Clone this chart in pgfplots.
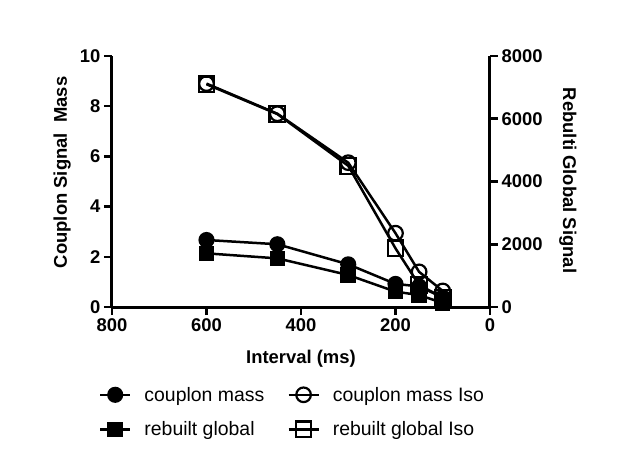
\documentclass[border=0pt]{standalone}
\usepackage{pgfplots}
\pgfplotsset{compat=1.18}
\usepackage{fontspec}
\setmainfont{Liberation Sans}
\begin{document}
\begin{tikzpicture}
\pgfplotsset{
  common/.style={
    scale only axis, width=378bp, height=251bp,
    at={(0,0)}, anchor=south west,
    x dir=reverse, xmin=0, xmax=800,
    /pgf/number format/assume math mode=true,
    ticklabel style={font=\bfseries\fontsize{18.5}{18.5}\selectfont},
    label style={font=\bfseries\fontsize{18.5}{19}\selectfont},
    tick align=outside, major tick length=8bp,
    every tick/.style={black, line width=2.5bp},
    axis line style={line width=3bp},
    clip=false,
  },
  cm/.style={black, line width=2.5bp, mark=*, mark size=6.8bp, mark options={solid, fill=black}},
  cmi/.style={black, line width=2.5bp, mark=o, mark size=7.3bp, mark options={solid, line width=2.2bp, fill=white}},
  rg/.style={black, line width=2.5bp, mark=square*, mark size=6.5bp, mark options={solid, fill=black}},
  rgi/.style={black, line width=2.5bp, mark=square, mark size=7.8bp, mark options={solid, line width=2.2bp, fill=white}},
}
\begin{axis}[common,
  axis x line*=bottom, axis y line*=left,
  ymin=0, ymax=10, ytick={0,2,...,10},
  xtick={0,200,...,800},
  xlabel={Interval (ms)},
  xlabel style={at={(axis description cs:0.5,-0.205)}, anchor=center},
  ylabel={Couplon Signal\ \ Mass},
  ylabel style={at={(axis description cs:-0.132,0.536)}, anchor=center, rotate=0},
]
\addplot[cm] coordinates {(600,2.67) (450,2.5) (300,1.7) (200,0.92) (150,0.82) (100,0.38)};
\addplot[cmi] coordinates {(600,8.9) (450,7.7) (300,5.75) (200,2.94) (150,1.4) (100,0.64)};
\end{axis}
\begin{axis}[common,
  axis x line=none, axis y line*=right,
  ymin=0, ymax=8000, ytick={0,2000,...,8000},
  scaled y ticks=false,
  yticklabel style={/pgf/number format/.cd, fixed, 1000 sep={}},
  ylabel={Rebulti Global Signal},
  ylabel style={at={(axis description cs:1.206,0.504)}, anchor=center, rotate=180},
  legend columns=2,
  legend cell align=left,
  legend style={at={(axis description cs:-0.035,-0.31)}, anchor=north west,
    draw=none, fill=none, inner sep=0pt,
    font=\fontsize{19.5}{20}\selectfont,
    nodes={inner sep=2bp},
    row sep=15bp,
    /tikz/every odd column/.append style={column sep=11bp},
    /tikz/every even column/.append style={column sep=21bp}},
  legend image code/.code={\draw[mark repeat=2, mark phase=2, #1] plot coordinates {(0bp,0bp) (15bp,0bp) (30bp,0bp)};},
]
\addlegendimage{cm}
\addlegendentry{couplon mass}
\addlegendimage{cmi}
\addlegendentry{couplon mass Iso}
\addplot[rg] coordinates {(600,1710) (450,1550) (300,1020) (200,490) (150,380) (100,130)};
\addlegendentry{rebuilt global}
\addplot[rgi] coordinates {(600,7100) (450,6150) (300,4500) (200,1870) (150,700) (100,300)};
\addlegendentry{rebuilt global Iso}
\end{axis}
\pgfresetboundingbox
\path (-112bp,-143bp) rectangle (505bp,307bp);
\end{tikzpicture}
\end{document}
